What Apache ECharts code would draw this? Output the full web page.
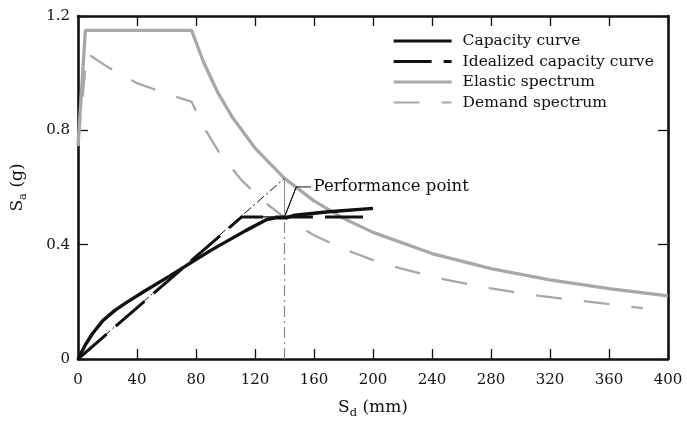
<!DOCTYPE html>
<html>
<head>
<meta charset="utf-8">
<script src="https://cdn.jsdelivr.net/npm/echarts@6/dist/echarts.min.js"></script>
<style>
  html, body { margin: 0; padding: 0; background: #fff; }
  #chart { width: 687px; height: 426px; }
</style>
</head>
<body>
<div id="chart"></div>
<script>
// axis ticks
var xTicks = [0, 40, 80, 120, 160, 200, 240, 280, 320, 360, 400]
var yTicks = [0, 0.4, 0.8, 1.2]

// curves, [Sd (mm), Sa (g)]
var capacityCurve = [[0, 0], [5, 0.05], [10, 0.09], [17, 0.135], [25, 0.17], [33, 0.198], [45, 0.237],
    [62, 0.29], [90, 0.38], [114, 0.45], [128, 0.488], [134, 0.494], [141, 0.494], [147, 0.503],
    [170, 0.515], [200, 0.527]]
var idealizedCurve = [[0, 0], [111, 0.497], [198, 0.497]]
var elasticSpectrum = [[0, 0.745], [5, 1.15], [77, 1.15], [85, 1.04], [95, 0.93], [105, 0.843], [120, 0.738],
    [140, 0.632], [160, 0.553], [180, 0.492], [200, 0.443], [240, 0.369], [280, 0.316], [320, 0.277],
    [360, 0.246], [400, 0.221]]
var demandSpectrum = [[0, 0.75], [6, 1.07], [20, 1.022], [40, 0.965], [60, 0.928], [77, 0.9], [86, 0.805],
    [96, 0.72], [111, 0.625], [125, 0.555], [140, 0.495], [160, 0.433], [180, 0.385], [200, 0.346],
    [220, 0.315], [250, 0.277], [280, 0.247], [310, 0.223], [340, 0.204], [383, 0.178]]

// construction lines around the performance point
var initialStiffness = [[0, 0], [140, 0.632]]
var plateauLine = [[111, 0.497], [140, 0.497]]
var dropLineLow = [[140, 0], [140, 0.497]]
var dropLineHigh = [[140, 0.497], [140, 0.632]]
var leaderLine = [[158, 0.602], [148, 0.602], [140.4, 0.502]]
var perfLabel = 'Performance point'

var names = ['Capacity curve', 'Idealized capacity curve', 'Elastic spectrum', 'Demand spectrum']
var legendWidths = [3.2, 3, 3.2, 2.2]

var serif = 'DejaVu Serif'
var box = document.getElementById('chart')
var myChart = echarts.init(box)

function frameAxis(pos, isX, show) {
    return {
        type: 'value',
        position: pos,
        min: 0,
        max: isX ? 400 : 1.2,
        interval: isX ? 40 : 0.4,
        nameMoveOverlap: false,
        axisLine: { show: true, onZero: false, lineStyle: { color: '#111', width: 2.6 } },
        axisTick: { show: true, inside: true, length: 10, lineStyle: { color: '#111', width: 1.3 } },
        splitLine: { show: false },
        axisLabel: { show: show, color: '#111', fontFamily: serif, fontSize: 15, margin: isX ? 14 : 8,
            formatter: function (v) {
                var list = isX ? xTicks : yTicks
                for (var i = 0; i < list.length; i++) {
                    if (Math.abs(list[i] - v) < 1e-6) return String(list[i])
                }
                return ''
            } }
    }
}

var nameStyle = {
    rich: {
        m: { fontFamily: serif, fontSize: 17, color: '#111', lineHeight: 22 },
        s: { fontFamily: serif, fontSize: 11.5, color: '#111', lineHeight: 10, verticalAlign: 'bottom' }
    }
}
var xBottom = frameAxis('bottom', true, true)
xBottom.name = '{m|S}{s|d}{m| (mm)}'
xBottom.nameLocation = 'middle'
xBottom.nameGap = 38
xBottom.nameTextStyle = nameStyle
var yLeft = frameAxis('left', false, true)
yLeft.name = '{m|S}{s|a}{m| (g)}'
yLeft.nameLocation = 'middle'
yLeft.nameGap = 49
yLeft.nameTextStyle = nameStyle

var thin = function (name, data, color, type, width) {
    return {
        name: name, type: 'line', data: data, showSymbol: false, symbol: 'none', silent: true,
        lineStyle: { color: color, width: width || 1.1, type: type || 'solid' }, z: 3
    }
}

var option = {
    animation: false,
    grid: { left: 78, right: 19, top: 16, bottom: 67 },
    legend: {
        data: names.map(function (n, i) {
            return { name: n, lineStyle: { width: legendWidths[i] } }
        }),
        orient: 'vertical',
        left: 392,
        top: 33,
        padding: 0,
        itemWidth: 58,
        itemHeight: 14,
        itemGap: 4.5,
        itemStyle: { color: 'rgba(0,0,0,0)', borderWidth: 0 },
        textStyle: { fontFamily: serif, fontSize: 15.5, color: '#111', padding: [0, 0, 0, 6] }
    },
    xAxis: [xBottom, frameAxis('top', true, false)],
    yAxis: [yLeft, frameAxis('right', false, false)],
    series: [
        {
            name: 'Elastic spectrum', type: 'line', data: elasticSpectrum, showSymbol: false, symbol: 'none',
            lineStyle: { color: '#a8a8a8', width: 3.3 }, z: 2
        },
        {
            name: 'Demand spectrum', type: 'line', data: demandSpectrum, showSymbol: false, symbol: 'none',
            lineStyle: { color: '#a8a8a8', width: 2.3, type: [26, 22] }, z: 2
        },
        thin('stiffness', initialStiffness, '#111', [9, 3, 2, 3], 1),
        thin('plateau', plateauLine, '#111', 'solid', 1.2),
        thin('dropLow', dropLineLow, '#888', [11, 4, 2, 4], 1.2),
        thin('dropHigh', dropLineHigh, '#999', 'solid', 1.2),
        {
            name: 'Idealized capacity curve', type: 'line', data: idealizedCurve, showSymbol: false, symbol: 'none',
            lineStyle: { color: '#111', width: 3, type: [38, 12] }, z: 4
        },
        {
            name: 'Capacity curve', type: 'line', data: capacityCurve, showSymbol: false, symbol: 'none',
            lineStyle: { color: '#111', width: 3.4 }, z: 5
        },
        {
            name: 'leader', type: 'line', data: leaderLine, showSymbol: false, symbol: 'none', silent: true,
            lineStyle: { color: '#111', width: 1 }, z: 6,
            markLine: {
                silent: true, animation: false,
                symbol: ['none', 'arrow'], symbolSize: [0, 8],
                label: { show: false },
                lineStyle: { color: '#111', width: 1, type: 'solid' },
                data: [[{ coord: leaderLine[1] }, { coord: leaderLine[2] }]]
            },
            markPoint: {
                silent: true, symbol: 'circle', symbolSize: 1, itemStyle: { color: 'rgba(0,0,0,0)' },
                label: { show: true, position: 'right', distance: 2, formatter: perfLabel,
                    fontFamily: serif, fontSize: 16.5, color: '#111' },
                data: [{ coord: leaderLine[0] }]
            }
        }
    ]
}
myChart.setOption(option)
window.addEventListener('resize', function () {
    myChart.resize()
})
</script>
</body>
</html>
